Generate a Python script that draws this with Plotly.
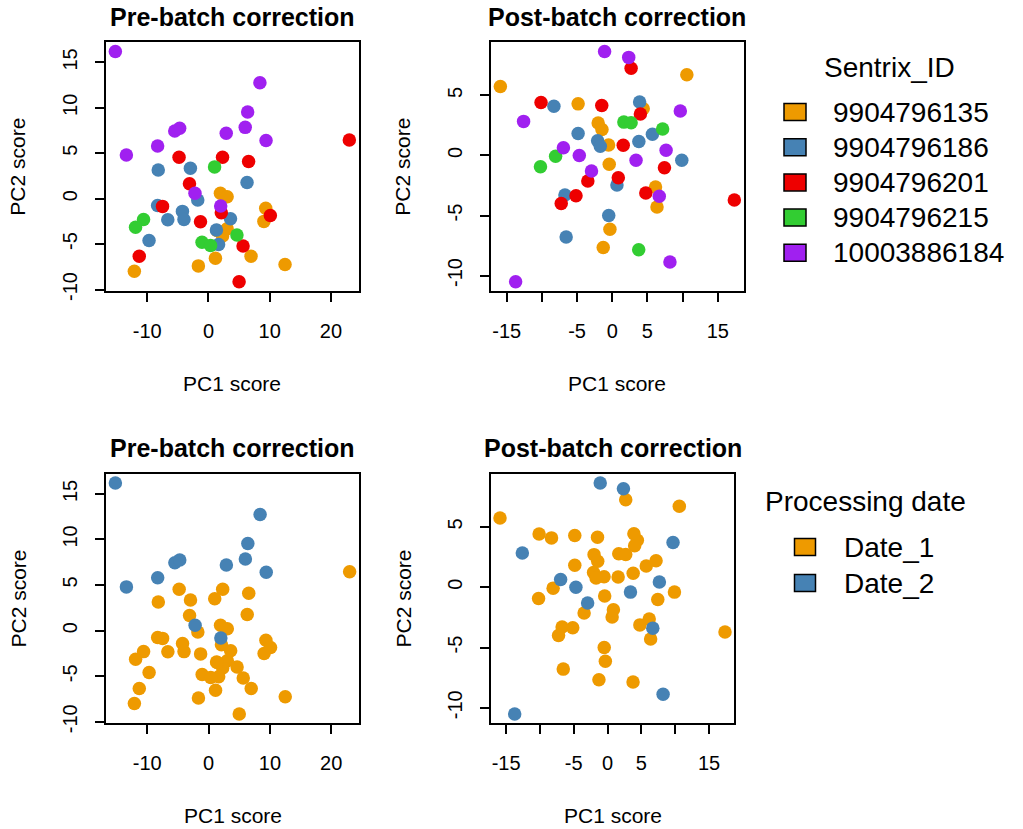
import plotly.graph_objects as go

FONT = "Liberation Sans, Arial, sans-serif"

# Sentrix chip IDs and their plotting colours
batch_ids = ["9904796135", "9904796186", "9904796201", "9904796215", "10003886184"]
batch_colors = ["#EE9A00", "#4682B4", "#EE0000", "#32CD32", "#A020F0"]

# processing date of each chip (index into date_labels)
date_labels = ["Date_1", "Date_2"]
date_colors = ["#EE9A00", "#4682B4"]
batch_date = [0, 0, 0, 0, 1]

# PCA scores before batch correction
pre_pc1 = [1.95, 3.05, 9.35, 9.05, 3.05, 2.3, 1.4, 6.95, 1.14, -1.65, -12.1, 12.5,
           -8.2, -2.95, 6.3, -1.75, -8.3, -4.25, -4.0, -6.64, 3.6, 1.3, -9.7, 1.65,
           -4.8, 2.3, 6.55, 23.0, -3.1, -7.5, 2.1, -1.3, 10.1, 5.65, -11.3, 5.0,
           1.0, -10.6, -11.9, 4.65, -1.05, 0.35,
           -15.2, -13.4, -8.3, -5.5, -4.7, -2.2, 2.0, 2.9, 6.0, 6.4, 8.4, 9.4]
pre_pc2 = [0.6, 0.2, -1.05, -2.5, -3.3, -4.1, -3.5, -6.35, -6.55, -7.4, -8.0, -7.25,
           3.15, 3.35, 1.78, -0.15, -0.75, -1.4, -2.3, -2.32, -2.2, -3.45, -4.6, -5.05,
           4.55, 4.55, 4.1, 6.45, 1.65, -0.85, -1.55, -2.55, -1.85, -5.2, -6.35, -9.15,
           3.5, -2.3, -3.15, -4.0, -4.8, -5.15,
           16.2, 4.8, 5.8, 7.45, 7.75, 0.6, -0.8, 7.2, 7.85, 9.55, 12.75, 6.4]
pre_batch = [0, 0, 0, 0, 0, 0, 0, 0, 0, 0, 0, 0,
             1, 1, 1, 1, 1, 1, 1, 1, 1, 1, 1, 1,
             2, 2, 2, 2, 2, 2, 2, 2, 2, 2, 2, 2,
             3, 3, 3, 3, 3, 3,
             4, 4, 4, 4, 4, 4, 4, 4, 4, 4, 4, 4]

# PCA scores after batch correction
post_pc1 = [10.6, -15.9, -4.85, 4.4, -2.0, -1.46, -0.52, -0.43, 6.15, 6.36, -0.33, -1.28,
            3.89, -8.29, 5.71, -4.85, -2.08, -1.7, 3.78, 9.88, 0.67, -6.72, -0.5, -6.55,
            2.68, -10.12, -1.49, 4.0, 1.56, 7.42, -3.47, 0.86, 4.77, -5.15, -7.25, 17.35,
            1.65, 2.68, 7.16, -8.05, -10.2, 3.76,
            -1.09, 2.34, 9.67, -12.6, -6.94, -4.68, 7.65, 3.38, -2.95, 6.68, 8.2, -13.73]
post_pc2 = [6.72, 5.75, 4.3, 3.9, 2.71, 2.16, 0.88, -0.73, -2.63, -4.29, -6.14, -7.67,
            4.45, 4.1, 1.76, 1.83, 1.23, 0.77, 1.16, -0.4, -2.46, -3.29, -5.0, -6.79,
            7.27, 4.42, 4.16, 3.45, 0.85, -1.02, -2.13, -1.86, -3.12, -3.36, -4.0, -3.71,
            2.78, 2.73, 2.21, -0.07, -0.93, -7.86,
            8.66, 8.17, 3.71, 2.84, 0.65, 0.0, 0.44, -0.4, -1.3, -3.39, -8.88, -10.52]
post_batch = [0, 0, 0, 0, 0, 0, 0, 0, 0, 0, 0, 0,
              1, 1, 1, 1, 1, 1, 1, 1, 1, 1, 1, 1,
              2, 2, 2, 2, 2, 2, 2, 2, 2, 2, 2, 2,
              3, 3, 3, 3, 3, 3,
              4, 4, 4, 4, 4, 4, 4, 4, 4, 4, 4, 4]

# axis ticks (labels use a plain hyphen for negatives)
pre_xticks = [-10, 0, 10, 20]
pre_xticktext = ["-10", "0", "10", "20"]
pre_yticks = [-10, -5, 0, 5, 10, 15]
pre_yticktext = ["-10", "-5", "0", "5", "10", "15"]
post_xticks = [-15, -10, -5, 0, 5, 10, 15]
post_xticktext = ["-15", "", "-5", "0", "5", "", "15"]
post_yticks = [-10, -5, 0, 5]
post_yticktext = ["-10", "-5", "0", "5"]

W = 1023
H_LAYOUT = 829   # coordinate frame used for placing elements
H = 839          # figure height
MS = 13.5


def px(x):
    return x / W


def py(y):
    return 1 - y / H_LAYOUT


def padded(v):
    lo, hi = min(v), max(v)
    pad = 0.04 * (hi - lo)
    return [lo - pad, hi + pad]


fig = go.Figure()


def add_points(xs, ys, groups, colors, order, xa, ya):
    for g in order:
        gx = [x for x, k in zip(xs, groups) if k == g]
        gy = [y for y, k in zip(ys, groups) if k == g]
        fig.add_trace(go.Scatter(
            x=gx, y=gy, mode="markers", xaxis=xa, yaxis=ya, showlegend=False,
            marker=dict(size=MS, color=colors[g], line=dict(width=0)),
            hoverinfo="x+y"))


# top row: coloured by chip
add_points(pre_pc1, pre_pc2, pre_batch, batch_colors, range(5), "x", "y")
add_points(post_pc1, post_pc2, post_batch, batch_colors, range(5), "x2", "y2")
# bottom row: coloured by processing date
pre_date = [batch_date[b] for b in pre_batch]
post_date = [batch_date[b] for b in post_batch]
add_points(pre_pc1, pre_pc2, pre_date, date_colors, range(2), "x3", "y3")
add_points(post_pc1, post_pc2, post_date, date_colors, range(2), "x4", "y4")

axis_style = dict(
    showline=True, linewidth=2, linecolor="black", mirror=True,
    ticks="outside", ticklen=9, tickwidth=2, tickcolor="black",
    showgrid=False, zeroline=False,
    tickfont=dict(family=FONT, size=20, color="black"),
)
xstyle = dict(axis_style, ticklabelstandoff=12)
ystyle = dict(axis_style, tickangle=-90, ticklabelstandoff=10)

panels = {
    "TL": dict(x0=106, x1=358.7, y0=42.3, y1=291),
    "TR": dict(x0=491, x1=743.7, y0=42.3, y1=291),
    "BL": dict(x0=106, x1=359, y0=473.7, y1=723.3),
    "BR": dict(x0=491, x1=734, y0=473.7, y1=723.3),
}


def dom(p):
    return [px(p["x0"]), px(p["x1"])], [py(p["y1"]), py(p["y0"])]


xd, yd = dom(panels["TL"])
fig.update_layout(
    xaxis=dict(xstyle, domain=xd, range=padded(pre_pc1), tickvals=pre_xticks,
               ticktext=pre_xticktext, anchor="y"),
    yaxis=dict(ystyle, domain=yd, range=padded(pre_pc2), tickvals=pre_yticks,
               ticktext=pre_yticktext, anchor="x"),
)
xd, yd = dom(panels["TR"])
fig.update_layout(
    xaxis2=dict(xstyle, domain=xd, range=padded(post_pc1), tickvals=post_xticks,
                ticktext=post_xticktext, anchor="y2"),
    yaxis2=dict(ystyle, domain=yd, range=padded(post_pc2), tickvals=post_yticks,
                ticktext=post_yticktext, anchor="x2"),
)
xd, yd = dom(panels["BL"])
fig.update_layout(
    xaxis3=dict(xstyle, domain=xd, range=padded(pre_pc1), tickvals=pre_xticks,
                ticktext=pre_xticktext, anchor="y3"),
    yaxis3=dict(ystyle, domain=yd, range=padded(pre_pc2), tickvals=pre_yticks,
                ticktext=pre_yticktext, anchor="x3"),
)
xd, yd = dom(panels["BR"])
fig.update_layout(
    xaxis4=dict(xstyle, domain=xd, range=padded(post_pc1), tickvals=post_xticks,
                ticktext=post_xticktext, anchor="y4"),
    yaxis4=dict(ystyle, domain=yd, range=padded(post_pc2), tickvals=post_yticks,
                ticktext=post_yticktext, anchor="x4"),
)

annotations = []
shapes = []


def text(x, y, s, size=20, bold=False, angle=0, xanchor="center"):
    annotations.append(dict(
        x=px(x), y=py(y), xref="paper", yref="paper", text=("<b>%s</b>" % s) if bold else s,
        showarrow=False, textangle=angle, xanchor=xanchor, yanchor="middle",
        font=dict(family=FONT, size=size, color="black")))


panel_titles = {"TL": "Pre-batch correction", "TR": "Post-batch correction",
                "BL": "Pre-batch correction", "BR": "Post-batch correction"}
for key, p in panels.items():
    cx = (p["x0"] + p["x1"]) / 2
    cy = (p["y0"] + p["y1"]) / 2
    text(cx, p["y0"] - 25.5, panel_titles[key], size=25, bold=True)
    text(cx, p["y1"] + 92, "PC1 score", size=21)
    text(p["x0"] - 88, cy, "PC2 score", size=21, angle=-90)


def legend(title, labels, colors, title_xy, box_x, text_x, y_first, step):
    text(title_xy[0], title_xy[1], title, size=28, xanchor="left")
    for i, (lab, col) in enumerate(zip(labels, colors)):
        yc = y_first + i * step
        shapes.append(dict(type="rect", xref="paper", yref="paper",
                           x0=px(box_x[0]), x1=px(box_x[1]),
                           y0=py(yc + 8.5), y1=py(yc - 8.5),
                           fillcolor=col, line=dict(color="black", width=1.5)))
        text(text_x, yc, lab, size=28, xanchor="left")


legend("Sentrix_ID", batch_ids, batch_colors, (822, 68), (784, 806), 831, 112, 35.2)
legend("Processing date", date_labels, date_colors, (763, 502), (794.5, 815.5), 842, 547, 36)

fig.update_layout(
    width=W, height=H, margin=dict(l=0, r=0, t=0, b=0),
    paper_bgcolor="white", plot_bgcolor="white",
    annotations=annotations, shapes=shapes, showlegend=False,
)

# keep the page exactly the size of the figure
page_css = ("document.documentElement.style.margin='0';"
            "document.body.style.margin='0';document.body.style.padding='0';"
            "document.documentElement.style.overflow='hidden';"
            "document.body.style.overflow='hidden';")
fig.write_html("out.html", post_script=page_css)
